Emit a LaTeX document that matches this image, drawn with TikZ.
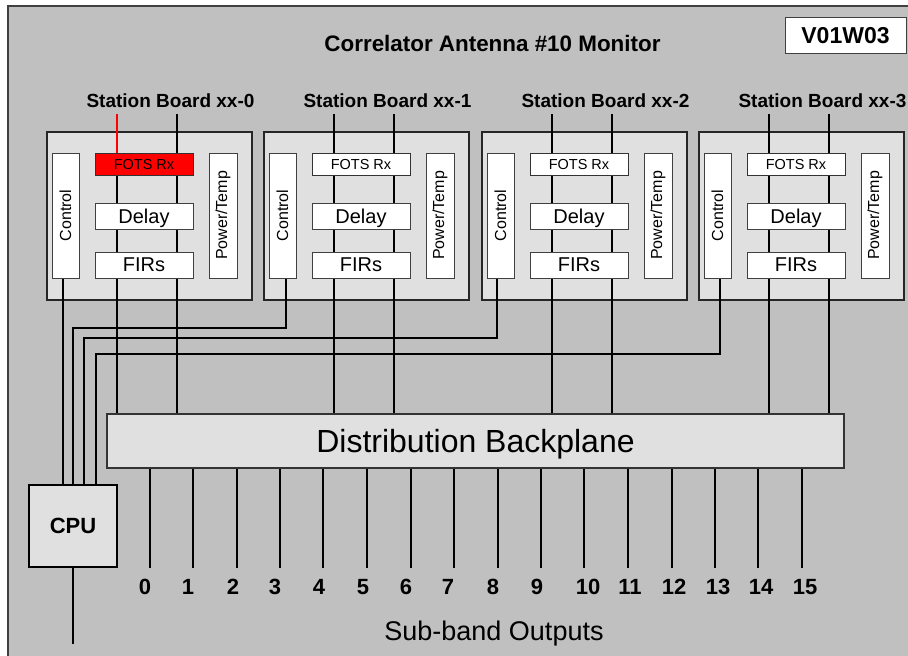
\documentclass[tikz,border=0pt]{standalone}
\usepackage{fontspec}
\setmainfont{Liberation Sans}
\definecolor{bggray}{HTML}{C0C0C0}
\definecolor{lgray}{HTML}{E0E0E0}
\definecolor{fotsred}{HTML}{FF0000}
\pgfdeclarelayer{bg}
\pgfdeclarelayer{wires}
\pgfsetlayers{bg,wires,main}
\begin{document}
\begin{tikzpicture}[x=1pt,y=-1pt,
  board/.style={draw=black!85, line width=1.2pt, fill=lgray, minimum width=205pt, minimum height=168pt, inner sep=0pt},
  blk/.style={draw=black!75, line width=1pt, fill=white, minimum width=98pt, minimum height=26pt, inner sep=0pt, text depth=0pt, font=\fontsize{20}{20}\selectfont},
  fotsbox/.style={draw=black!80, line width=1pt, minimum width=98pt, minimum height=22pt, inner sep=0pt, text depth=0pt, font=\fontsize{14.5}{14.5}\selectfont},
  vbox/.style={draw=black!75, line width=1pt, fill=white, rotate=90, minimum width=125pt, inner sep=0pt, font=\fontsize{16}{16}\selectfont},
  wire/.style={line width=2.6pt, black},
  owire/.style={line width=2.2pt, black},
  stlabel/.style={font=\bfseries\fontsize{19}{19}\selectfont, anchor=base},
  numlabel/.style={font=\bfseries\fontsize{22}{22}\selectfont, anchor=base}
]
\useasboundingbox (0,0) rectangle (908,656);
\begin{pgfonlayer}{bg}
  \fill[white] (0,0) rectangle (908,656);
  \draw[fill=bggray, draw=black!75, line width=1.5pt] (8,6) rectangle (925,675);
  \foreach \i/\L in {0/47,1/264,2/482,3/699} {
    \node[board] (b\i) at ({\L+102.5},216) {};
  }
\end{pgfonlayer}

% title and version box
\node[anchor=base, font=\bfseries\fontsize{22.4}{22.4}\selectfont] (title) at (492.5,51) {Correlator Antenna \#10 Monitor};
\node[draw=black!75, line width=1pt, fill=white, minimum width=121pt, minimum height=36pt, inner sep=0pt, text depth=0pt, font=\bfseries\fontsize{23}{23}\selectfont] (ver) at (845.5,35) {V01W03};

% station boards contents
\foreach \i/\L/\fc/\cx in {0/47/fotsred/63,1/264/white/286,2/482/white/497,3/699/white/720} {
  \node[stlabel] (t\i) at ({\L+123.5},107) {Station Board xx-\i};
  \node[vbox, minimum height=27pt] (ctl\i) at ({\L+18.5},215.5) {Control};
  \node[fotsbox, fill=\fc] (fots\i) at ({\L+97},164) {FOTS Rx};
  \node[blk] (dly\i) at ({\L+97},216) {Delay};
  \node[blk] (fir\i) at ({\L+97},265) {FIRs};
  \node[vbox, minimum height=28pt] (pwr\i) at ({\L+176},215.5) {Power/Temp};
  \coordinate (a\i) at ({\L+70},114);
  \coordinate (c\i) at ({\L+130},114);
  \coordinate (k\i) at (\cx,278);
}

% backplane
\node[draw=black!80, line width=1.2pt, fill=lgray, minimum width=737pt, minimum height=54pt, inner sep=0pt, text depth=0pt, font=\fontsize{32}{32}\selectfont] (bp) at (475.5,441) {Distribution Backplane};

% CPU
\node[draw=black, line width=2.5pt, fill=lgray, minimum width=88pt, minimum height=82pt, inner sep=0pt, font=\bfseries\fontsize{22}{22}\selectfont] (cpu) at (73,526) {CPU};
\coordinate (p0) at (63,485);
\coordinate (p1) at (73,485);
\coordinate (p2) at (84,485);
\coordinate (p3) at (96,485);
\coordinate (cpuout) at (73,644);

% output labels
\foreach \j/\ox/\lx in {0/150/145,1/193/188,2/237/233,3/280/275,4/323/319,5/367/363,6/411/406,7/454/448,8/498/493,9/541/537,10/584/588,11/628/630,12/672/674,13/715/718,14/758/761,15/802/805} {
  \coordinate (o\j) at (\ox,568);
  \node[numlabel] (n\j) at (\lx,594) {\j};
}
\node[anchor=base, font=\fontsize{27}{27}\selectfont] (sub) at (494,640) {Sub-band Outputs};

\begin{pgfonlayer}{wires}
  \draw[line width=2.2pt, fotsred] (a0) -- (a0 |- fots0.north);
  \draw[wire] (a0 |- fots0.south) -- (a0 |- bp.north);
  \draw[wire] (c0) -- (c0 |- bp.north);
  \foreach \i in {1,2,3} {
    \draw[wire] (a\i) -- (a\i |- bp.north);
    \draw[wire] (c\i) -- (c\i |- bp.north);
  }
  \draw[wire] (k0) -- (p0);
  \draw[wire] (k1) -- ++(0,50) -| (p1);
  \draw[wire] (k2) -- ++(0,60) -| (p2);
  \draw[wire] (k3) -- ++(0,76) -| (p3);
  \draw[owire] (cpu.south) -- (cpuout);
  \foreach \j in {0,...,15} {
    \draw[owire] (o\j |- bp.south) -- (o\j);
  }
\end{pgfonlayer}
\end{tikzpicture}
\end{document}
